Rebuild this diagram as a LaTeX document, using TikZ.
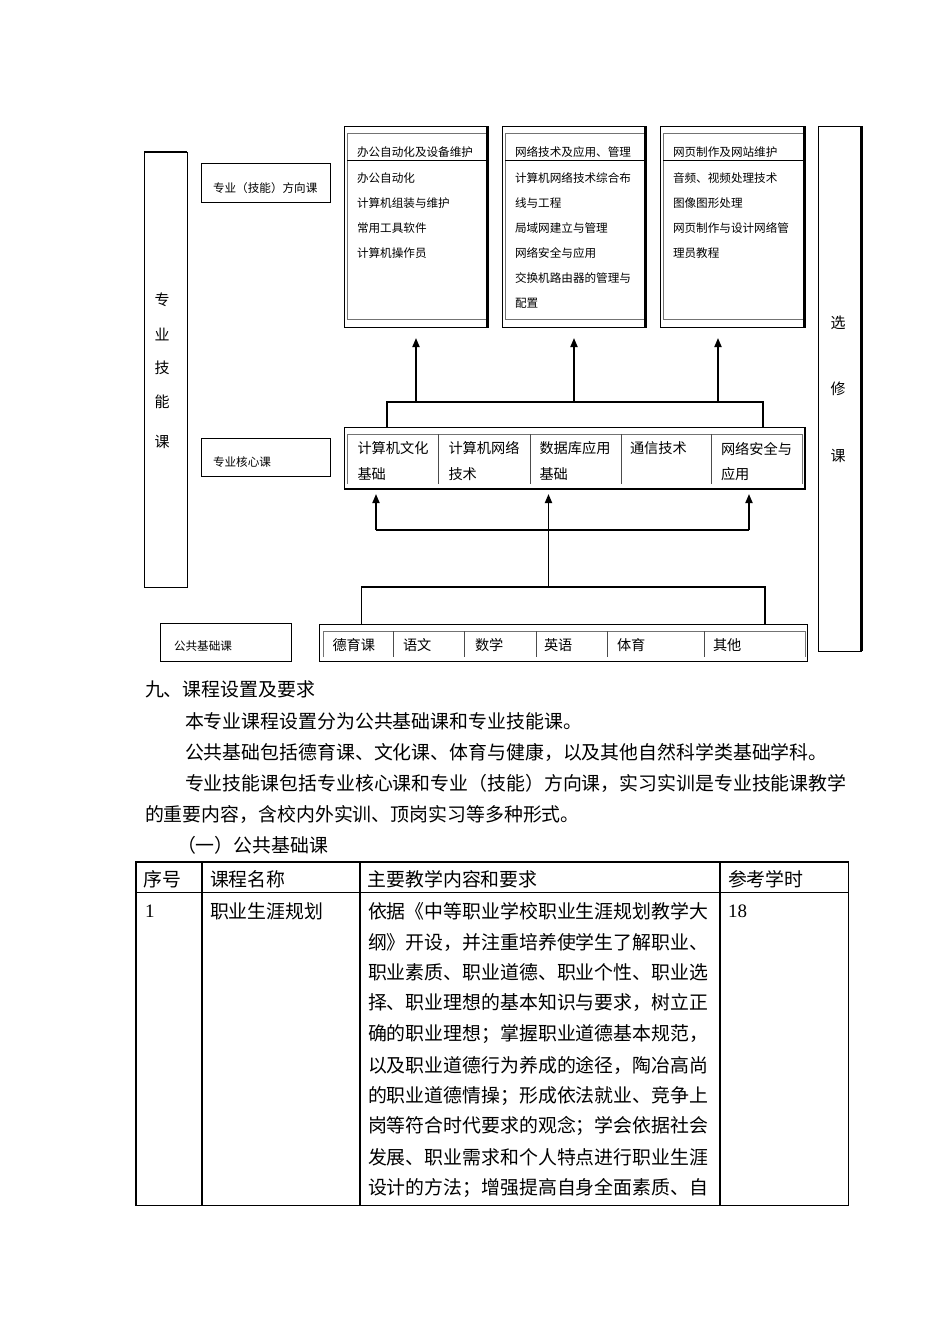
\documentclass[tikz,border=0pt]{standalone}
\usepackage{fontspec}
\setmainfont{Liberation Serif}
\newfontfamily\cjk{Noto Sans CJK SC}
\usetikzlibrary{arrows.meta}
\tikzset{
  every node/.style={inner sep=0pt, outer sep=0pt},
  box/.style={draw=black, line width=0.9pt, anchor=north west},
  heavy/.style={draw=black, line width=2.2pt},
  innerline/.style={draw=black!55, line width=1pt},
  divline/.style={draw=black!70, line width=1pt},
  brk/.style={draw=black, line width=1.5pt},
  arr/.style={draw=black, line width=1.8pt, -{Triangle[length=9pt,width=7pt]}},
  tbl/.style={draw=black, line width=1.1pt},
  sA/.style={anchor=west, font=\cjk\fontsize{11.6}{12}\selectfont},
  sB/.style={anchor=west, font=\cjk\fontsize{14.2}{15}\selectfont},
  sC/.style={anchor=center, font=\cjk\fontsize{15}{16}\selectfont},
  sD/.style={anchor=west, font=\cjk\fontsize{18.9}{20}\selectfont},
  sN/.style={anchor=west, font=\fontsize{19}{20}\selectfont},
}
\begin{document}
\begin{tikzpicture}[x=1pt,y=-1pt]
\useasboundingbox (0,0) rectangle (950,1344);
\fill[white] (0,0) rectangle (950,1344);

% ---------- left tall box ----------
\node[box, minimum width=43pt, minimum height=435pt] (L) at (144,152) {};
\draw[black, line width=2pt] (L.north west) -- (L.north east);
\node[sC] (L1) at (162,300) {专};
\node[sC] (L2) at (162,334) {业};
\node[sC] (L3) at (162,368) {技};
\node[sC] (L4) at (162,402) {能};
\node[sC] (L5) at (162,442) {课};

% ---------- label boxes ----------
\node[box, minimum width=129pt, minimum height=39pt] (D) at (201,163) {};
\node[sA] (Dt) at (213,188.5) {专业（技能）方向课};
\node[box, minimum width=129pt, minimum height=38pt] (K) at (201,438) {};
\node[sA] (Kt) at (213,462.5) {专业核心课};
\node[box, minimum width=131pt, minimum height=38pt] (P) at (160,623.5) {};
\node[sA] (Pt) at (174,646.5) {公共基础课};

% ---------- top boxes ----------
\node[box, minimum width=144pt, minimum height=200.5pt] (B1) at (344,126.5) {};
\node[box, minimum width=144pt, minimum height=200.5pt] (B2) at (502,126.5) {};
\node[box, minimum width=145pt, minimum height=200.5pt] (B3) at (660,126.5) {};
\foreach \l/\r in {344/488,502/646,660/805}{
  \draw[innerline] (\l+3,133.5) -- (\r-2.5,133.5);
  \draw[innerline] (\l+3,133.5) -- (\l+3,319.5) -- (\r-2.5,319.5);
  \draw[black, line width=1pt] (\l+3,160) -- (\r-2.5,160);
  \draw[heavy] (\r-0.5,127) -- (\r-0.5,327);
}
\node[sA] (h1) at (357,152) {办公自动化及设备维护};
\node[sA] (h2) at (515,152) {网络技术及应用、管理};
\node[sA] (h3) at (673,152) {网页制作及网站维护};

\node[sA] (a1) at (357,178) {办公自动化};
\node[sA] (a2) at (357,203) {计算机组装与维护};
\node[sA] (a3) at (357,228) {常用工具软件};
\node[sA] (a4) at (357,253) {计算机操作员};

\node[sA] (n1) at (515,178) {计算机网络技术综合布};
\node[sA] (n2) at (515,203) {线与工程};
\node[sA] (n3) at (515,228) {局域网建立与管理};
\node[sA] (n4) at (515,253) {网络安全与应用};
\node[sA] (n5) at (515,278) {交换机路由器的管理与};
\node[sA] (n6) at (515,303) {配置};

\node[sA] (w1) at (673,178) {音频、视频处理技术};
\node[sA] (w2) at (673,203) {图像图形处理};
\node[sA] (w3) at (673,228) {网页制作与设计网络管};
\node[sA] (w4) at (673,253) {理员教程};

% ---------- core box ----------
\node[box, minimum width=461pt, minimum height=62pt] (C) at (344,427) {};
\draw[innerline] (347,483.5) -- (347,434) -- (802.5,434) -- (802.5,483.5);
\draw[heavy] (C.south west) -- (C.south east);
\draw[heavy] (C.north east) -- (C.south east);
\foreach \x in {438.3,530,621,711.7}{ \draw[divline] (\x,434) -- (\x,483.5); }
\node[sB] (c1a) at (357.5,448.5) {计算机文化};
\node[sB] (c1b) at (357.5,474) {基础};
\node[sB] (c2a) at (448.5,448.5) {计算机网络};
\node[sB] (c2b) at (448.5,474) {技术};
\node[sB] (c3a) at (539.5,448.5) {数据库应用};
\node[sB] (c3b) at (539.5,474) {基础};
\node[sB] (c4a) at (630,448.5) {通信技术};
\node[sB] (c5a) at (721,448.5) {网络安全与};
\node[sB] (c5b) at (721,474) {应用};

% ---------- upper bracket and arrows ----------
\draw[brk] (387,427) -- (387,402) -- (763,402) -- (763,427);
\coordinate (u1) at (416,402); \coordinate (t1) at (416,338);
\coordinate (u2) at (574,402); \coordinate (t2) at (574,338);
\coordinate (u3) at (718,402); \coordinate (t3) at (718,338);
\draw[arr] (u1) -- (t1);
\draw[arr] (u2) -- (t2);
\draw[arr] (u3) -- (t3);

% ---------- bottom row box ----------
\node[box, minimum width=488pt, minimum height=37pt] (R) at (319,624) {};
\draw[innerline] (323,657) -- (323,631) -- (805,631) -- (805,657);
\foreach \x in {393.3,464.7,536.5,607.8,704.8}{ \draw[divline] (\x,631) -- (\x,657); }
\node[sB] (r1) at (332.5,645.5) {德育课};
\node[sB] (r2) at (403,645.5) {语文};
\node[sB] (r3) at (475,645.5) {数学};
\node[sB] (r4) at (544,645.5) {英语};
\node[sB] (r5) at (617,645.5) {体育};
\node[sB] (r6) at (713,645.5) {其他};

% ---------- lower brackets and arrows ----------
\draw[brk] (361.5,624) -- (361.5,587) -- (765,587) -- (765,624);
\draw[brk] (376,530) -- (749,530);
\coordinate (v1) at (376,530); \coordinate (s1) at (376,494);
\coordinate (v2) at (548.5,587); \coordinate (s2) at (548.5,494);
\coordinate (v3) at (749,530); \coordinate (s3) at (749,494);
\draw[arr] (v1) -- (s1);
\draw[arr] (v2) -- (s2);
\draw[arr] (v3) -- (s3);

% ---------- right box ----------
\node[box, minimum width=43pt, minimum height=525pt] (S) at (818.5,126) {};
\draw[heavy] (S.north east) -- (S.south east);
\node[sC] (S1) at (838,323) {选};
\node[sC] (S2) at (838,389) {修};
\node[sC] (S3) at (838,456) {课};

% ---------- text ----------
\node[sD] (p0) at (145,689) {九、课程设置及要求};
\node[sD] (p1) at (185,721) {本专业课程设置分为公共基础课和专业技能课。};
\node[sD] (p2) at (185,752) {公共基础包括德育课、文化课、体育与健康，以及其他自然科学类基础学科。};
\node[sD] (p3) at (185,783) {专业技能课包括专业核心课和专业（技能）方向课，实习实训是专业技能课教学};
\node[sD] (p4) at (145,814) {的重要内容，含校内外实训、顶岗实习等多种形式。};
\node[sD] (p5) at (177,845) {（一）公共基础课};

% ---------- table ----------
\draw[tbl] (136,862) rectangle (848.5,1205.5);
\draw[tbl] (136,892.5) -- (848.5,892.5);
\foreach \x in {202,360,720}{ \draw[tbl] (\x,862) -- (\x,1205.5); }
\node[sD] (th1) at (143.5,879) {序号};
\node[sD] (th2) at (210,879) {课程名称};
\node[sD] (th3) at (367.5,879) {主要教学内容和要求};
\node[sD] (th4) at (728,879) {参考学时};
\node[sN] (td1) at (145,911) {1};
\node[sD] (td2) at (210,911) {职业生涯规划};
\node[sN] (td4) at (728,911) {18};
\node[sD] (q1) at (368,911) {依据《中等职业学校职业生涯规划教学大};
\node[sD] (q2) at (368,942) {纲》开设，并注重培养使学生了解职业、};
\node[sD] (q3) at (368,972) {职业素质、职业道德、职业个性、职业选};
\node[sD] (q4) at (368,1003) {择、职业理想的基本知识与要求，树立正};
\node[sD] (q5) at (368,1034) {确的职业理想；掌握职业道德基本规范，};
\node[sD] (q6) at (368,1065) {以及职业道德行为养成的途径，陶冶高尚};
\node[sD] (q7) at (368,1096) {的职业道德情操；形成依法就业、竞争上};
\node[sD] (q8) at (368,1126) {岗等符合时代要求的观念；学会依据社会};
\node[sD] (q9) at (368,1157) {发展、职业需求和个人特点进行职业生涯};
\node[sD] (q10) at (368,1188) {设计的方法；增强提高自身全面素质、自};
\end{tikzpicture}
\end{document}
